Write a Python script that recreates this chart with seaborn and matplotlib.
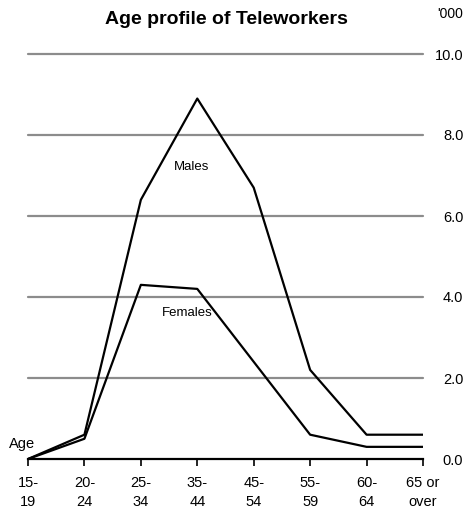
import matplotlib
matplotlib.use("Agg")
import matplotlib.pyplot as plt
import seaborn as sns
import pandas as pd

age_groups = ["15-\n19", "20-\n24", "25-\n34", "35-\n44", "45-\n54", "55-\n59", "60-\n64", "65 or\nover"]
males = [0.0, 0.6, 6.4, 8.9, 6.7, 2.2, 0.6, 0.6]
females = [0.0, 0.5, 4.3, 4.2, 2.4, 0.6, 0.3, 0.3]
y_ticks = [0, 2, 4, 6, 8, 10]

sns.set_style("white")
plt.rcParams["font.family"] = ["Liberation Sans", "DejaVu Sans"]
plt.rcParams["text.color"] = "black"
plt.rcParams["xtick.color"] = "black"
plt.rcParams["ytick.color"] = "black"

df = pd.DataFrame({
    "pos": list(range(len(age_groups))) * 2,
    "value": males + females,
    "sex": ["Males"] * len(males) + ["Females"] * len(females),
})

fig = plt.figure(figsize=(4.66, 5.11), dpi=100)
ax = fig.add_axes([28 / 466, (511 - 459) / 511, (423 - 28) / 466, (459 - 54) / 511])

for y in y_ticks[1:]:
    ax.axhline(y, color="#8c8c8c", lw=1.6, zorder=1, clip_on=False)

sns.lineplot(data=df, x="pos", y="value", hue="sex", palette={"Males": "black", "Females": "black"},
             sort=False, lw=1.6, legend=False, ax=ax, zorder=3)

ax.set_xlim(0, len(age_groups) - 1)
ax.set_ylim(0, 10)
ax.set_xlabel("")
ax.set_ylabel("")
for s in ["top", "left", "right"]:
    ax.spines[s].set_visible(False)
ax.spines["bottom"].set_color("black")
ax.spines["bottom"].set_linewidth(1.6)
ax.spines["bottom"].set_zorder(4)

ax.set_xticks(range(len(age_groups)))
ax.set_xticklabels(age_groups, linespacing=1.45)
ax.tick_params(axis="x", bottom=True, direction="out", length=5, width=1.2, color="black",
               labelsize=10.5, labelcolor="black", pad=7)

ax.set_yticks(y_ticks)
ax.set_yticklabels([f"{v:.1f}" for v in y_ticks])
ax.yaxis.tick_right()
ax.tick_params(axis="y", right=False, left=False, length=0, labelsize=10.5, labelcolor="black", pad=29)
for lab in ax.get_yticklabels():
    lab.set_ha("right")

ax.text(2.9, 7.2, "Males", ha="center", va="center", fontsize=9.5)
ax.text(2.82, 3.6, "Females", ha="center", va="center", fontsize=9.5)
ax.text(0.12, 0.37, "Age", ha="right", va="center", fontsize=10.5, clip_on=False)

fig.text(226 / 466, 1 - 20 / 511, "Age profile of Teleworkers", ha="center", va="center",
         fontsize=14, fontweight="bold")
fig.text(463 / 466, 1 - 14 / 511, "'000", ha="right", va="center", fontsize=10)

fig.savefig("out.png", dpi=100)
